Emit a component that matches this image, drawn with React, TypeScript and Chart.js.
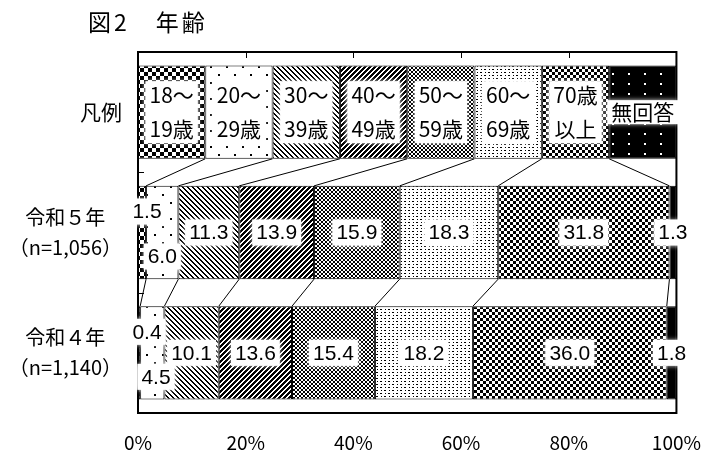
import React, { useEffect, useRef } from 'react';
import { Chart, registerables } from 'chart.js';

Chart.register(...registerables);

const titleText = '図2　年齢';
const rowLabels = [['凡例'], ['令和５年', '（n=1,056）'], ['令和４年', '（n=1,140）']];
const groupNames = ['18～19歳', '20～29歳', '30～39歳', '40～49歳', '50～59歳', '60～69歳', '70歳以上', '無回答'];
const legendLines = [['18～', '19歳'], ['20～', '29歳'], ['30～', '39歳'], ['40～', '49歳'], ['50～', '59歳'], ['60～', '69歳'], ['70歳', '以上'], ['無回答']];
const legendRow = [12.5, 12.5, 12.5, 12.5, 12.5, 12.5, 12.5, 12.5];
const reiwa5 = [1.5, 6.0, 11.3, 13.9, 15.9, 18.3, 31.8, 1.3];
const reiwa4 = [0.4, 4.5, 10.1, 13.6, 15.4, 18.2, 36.0, 1.8];
const xTicks = [0, 20, 40, 60, 80, 100];

function makePattern(w: number, h: number, isBlack: (x: number, y: number) => boolean): CanvasPattern {
  const c = document.createElement('canvas');
  c.width = w;
  c.height = h;
  const g = c.getContext('2d')!;
  g.fillStyle = '#fff';
  g.fillRect(0, 0, w, h);
  g.fillStyle = '#000';
  for (let y = 0; y < h; y++) {
    for (let x = 0; x < w; x++) {
      if (isBlack(x, y)) g.fillRect(x, y, 1, 1);
    }
  }
  return g.createPattern(c, 'repeat')!;
}

function buildPatterns(): CanvasPattern[] {
  return [
    // 18-19: bold checkerboard
    makePattern(8, 8, (x, y) => (((x >> 2) + (y >> 2)) % 2) === 0),
    // 20-29: sparse dots
    makePattern(16, 16, (x, y) => (x >= 2 && x <= 3 && y >= 2 && y <= 3) || (x >= 10 && x <= 11 && y >= 10 && y <= 11)),
    // 30-39: back-diagonal lines
    makePattern(5, 5, (x, y) => ((x - y + 10) % 5) < 2),
    // 40-49: bold forward-diagonal
    makePattern(5, 5, (x, y) => ((x + y) % 5) < 3),
    // 50-59: diamond lattice
    makePattern(4, 4, (x, y) => {
      const m = [
        [1, 0, 0, 1],
        [0, 1, 1, 0],
        [0, 1, 1, 0],
        [1, 0, 0, 1],
      ];
      return m[y][x] === 1;
    }),
    // 60-69: sparse dashes
    makePattern(8, 6, (x, y) => (y === 0 && (x === 0 || x === 1 || x === 5)) || (y === 3 && (x === 4 || x === 5 || x === 1))),
    // 70+: fine checkerboard
    makePattern(6, 6, (x, y) => ((Math.floor(x / 3) + Math.floor(y / 3)) % 2) === 0),
    // no answer: black with white dots
    makePattern(16, 10, (x, y) => !((x === 4 || x === 5) && (y === 3 || y === 4))),
  ];
}

function labelBox(ctx: CanvasRenderingContext2D, cx: number, cy: number, w: number, h: number) {
  ctx.save();
  ctx.fillStyle = '#fff';
  ctx.shadowColor = 'rgba(255,255,255,1)';
  ctx.shadowBlur = 5;
  ctx.fillRect(cx - w / 2, cy - h / 2, w, h);
  ctx.restore();
}

const decorPlugin = {
  id: 'decor',
  beforeDraw(chart: any) {
    const ctx = chart.ctx;
    ctx.save();
    ctx.fillStyle = '#fff';
    ctx.fillRect(0, 0, chart.width, chart.height);
    ctx.restore();
  },
  afterDatasetsDraw(chart: any) {
    const ctx: CanvasRenderingContext2D = chart.ctx;
    const area = chart.chartArea;
    const xs = chart.scales.x;
    const ys = chart.scales.y;
    const nSets = chart.data.datasets.length;
    const nRows = chart.data.labels.length;

    const bar = (d: number, r: number) => chart.getDatasetMeta(d).data[r].getProps(['x', 'y', 'base', 'height'], true);

    // connectors
    ctx.save();
    ctx.strokeStyle = '#000';
    ctx.lineWidth = 1;
    for (let r = 0; r < nRows - 1; r++) {
      for (let k = 0; k < nSets - 1; k++) {
        const a = bar(k, r);
        const b = bar(k, r + 1);
        ctx.beginPath();
        ctx.moveTo(a.x, a.y + a.height / 2);
        ctx.lineTo(b.x, b.y - b.height / 2);
        ctx.stroke();
      }
    }
    ctx.restore();

    // frame
    ctx.save();
    ctx.strokeStyle = '#000';
    ctx.lineWidth = 2;
    ctx.strokeRect(area.left, area.top, area.right - area.left, area.bottom - area.top);
    ctx.lineWidth = 1;
    xTicks.slice(1, -1).forEach((v) => {
      const x = Math.round(xs.getPixelForValue(v)) + 0.5;
      ctx.beginPath();
      ctx.moveTo(x, area.top);
      ctx.lineTo(x, area.top + 6);
      ctx.stroke();
    });
    for (let r = 0; r < nRows - 1; r++) {
      const y = Math.round((ys.getPixelForValue(r) + ys.getPixelForValue(r + 1)) / 2) + 0.5;
      ctx.beginPath();
      ctx.moveTo(area.left, y);
      ctx.lineTo(area.left + 6, y);
      ctx.stroke();
    }
    ctx.restore();

    // legend row labels
    ctx.save();
    ctx.textAlign = 'center';
    ctx.textBaseline = 'middle';
    ctx.font = '21px "Noto Sans CJK JP"';
    for (let d = 0; d < nSets; d++) {
      const b = bar(d, 0);
      const cx = (b.x + b.base) / 2;
      const lines = legendLines[d];
      const w = Math.max(...lines.map((t) => ctx.measureText(t).width)) + 8;
      const gap = 17;
      const h = lines.length > 1 ? gap * 2 + 28 : 24;
      labelBox(ctx, cx, b.y, w, h);
      ctx.fillStyle = '#000';
      lines.forEach((t, i) => {
        const off = lines.length > 1 ? (i === 0 ? -gap : gap) : 0;
        ctx.fillText(t, cx, b.y + off);
      });
    }
    ctx.restore();

    // value labels
    ctx.save();
    ctx.textAlign = 'center';
    ctx.textBaseline = 'middle';
    ctx.font = '21px "Liberation Sans"';
    for (let r = 1; r < nRows; r++) {
      for (let d = 0; d < nSets; d++) {
        const b = bar(d, r);
        const v = chart.data.datasets[d].data[r] as number;
        let cx = (b.x + b.base) / 2;
        let cy = b.y;
        if (d === 0 && v < 3) {
          cx = Math.max(b.x, area.left + 9);
          cy = b.y - 21;
        } else if (d === 1 && v < 8) {
          cy = b.y + 24;
          cx = Math.max(cx, area.left + 18);
        }
        const t = v.toFixed(1);
        const w = ctx.measureText(t).width + 8;
        labelBox(ctx, cx, cy, w, 26);
        ctx.fillStyle = '#000';
        ctx.fillText(t, cx, cy + 1);
      }
    }
    ctx.restore();

    // row labels
    ctx.save();
    ctx.textAlign = 'center';
    ctx.textBaseline = 'middle';
    ctx.fillStyle = '#000';
    rowLabels.forEach((lines, r) => {
      const y = ys.getPixelForValue(r);
      ctx.font = r === 0 ? '21px "Noto Sans CJK JP"' : '20px "Noto Sans CJK JP"';
      const maxW = Math.max(...lines.map((t) => ctx.measureText(t).width));
      const cx = area.left - 16 - maxW / 2;
      lines.forEach((t, i) => {
        const off = lines.length > 1 ? (i === 0 ? -15 : 15) : 0;
        ctx.fillText(t, cx, y + off);
      });
    });
    ctx.restore();

    // title
    ctx.save();
    ctx.textAlign = 'left';
    ctx.textBaseline = 'middle';
    ctx.fillStyle = '#000';
    ctx.font = '23px "Noto Sans CJK JP"';
    (ctx as any).letterSpacing = '3px';
    ctx.fillText(titleText, 88, 22);
    ctx.restore();
  },
};

export default function App() {
  const ref = useRef<HTMLCanvasElement | null>(null);

  useEffect(() => {
    if (!ref.current) return;
    const patterns = buildPatterns();
    const series = groupNames.map((name, i) => ({
      label: name,
      data: [legendRow[i], reiwa5[i], reiwa4[i]],
      backgroundColor: patterns[i],
      borderColor: '#000',
      borderWidth: 1,
      borderSkipped: false as const,
      barPercentage: 0.775,
      categoryPercentage: 1,
    }));
    const chart = new Chart(ref.current, {
      type: 'bar',
      data: {
        labels: rowLabels.map((l) => l.join(' ')),
        datasets: series,
      },
      options: {
        indexAxis: 'y',
        animation: false,
        responsive: true,
        maintainAspectRatio: false,
        layout: { padding: { left: 138, right: 42, top: 52, bottom: 0 } },
        plugins: {
          legend: { display: false },
          tooltip: { enabled: false },
          title: { display: false },
        },
        scales: {
          x: {
            stacked: true,
            min: 0,
            max: 100,
            position: 'bottom',
            border: { display: false },
            grid: { display: false, drawTicks: false },
            afterBuildTicks: (axis: any) => {
              axis.ticks = xTicks.map((v) => ({ value: v }));
            },
            afterFit: (axis: any) => {
              axis.height = 42;
            },
            ticks: {
              padding: 18,
              color: '#000',
              font: { family: '"Noto Sans CJK JP"', size: 19 },
              callback: (v: any) => `${v}%`,
              maxRotation: 0,
              autoSkip: false,
            },
          },
          y: {
            stacked: true,
            display: false,
          },
        },
      },
      plugins: [decorPlugin],
    });
    return () => chart.destroy();
  }, []);

  return (
    <div style={{ position: 'fixed', left: 0, top: 0, width: 719, height: 455, background: '#fff' }}>
      <canvas ref={ref} />
    </div>
  );
}
